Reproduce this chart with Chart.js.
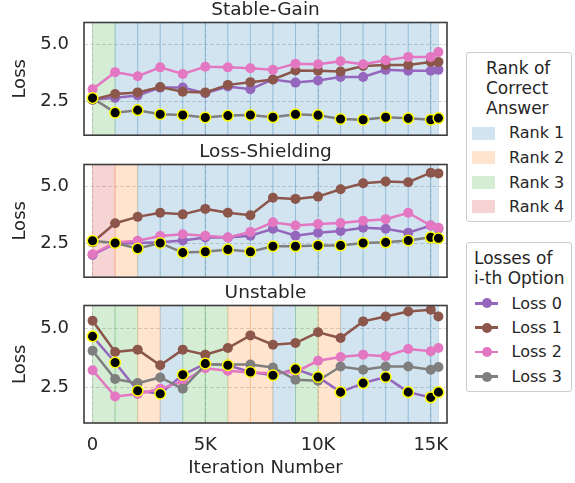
<!DOCTYPE html>
<html>
<head>
<meta charset="utf-8">
<script src="https://cdn.jsdelivr.net/npm/chart.js@4.4.0/dist/chart.umd.min.js"></script>
<style>
  body { margin: 0; background: #fff; }
  #wrap { position: relative; width: 575px; height: 483px; font-family: "DejaVu Sans", sans-serif; color: #262626; }
  canvas { position: absolute; left: 0; }
  .box { position: absolute; border: 1px solid #cccccc; border-radius: 3px; box-sizing: border-box; background: #fff; }
  .t { position: absolute; line-height: 1; white-space: nowrap; }
  .patch { position: absolute; width: 23px; height: 13px; }
  .hline { position: absolute; width: 23px; height: 2.5px; }
  .dot { position: absolute; width: 10px; height: 10px; border-radius: 50%; }
</style>
</head>
<body>
<div id="wrap">
  <canvas id="c1" width="455" height="142" style="top:0px"></canvas>
  <canvas id="c2" width="455" height="142" style="top:142px"></canvas>
  <canvas id="c3" width="455" height="200" style="top:283px"></canvas>
  <div id="legends"></div>
</div>
<script>
// iterations (x) and ticks
const ITERS = [0, 1000, 2000, 3000, 4000, 5000, 6000, 7000, 8000, 9000, 10000, 11000, 12000, 13000, 14000, 15000, 15340];
const X_TICKS = [0, 5000, 10000, 15000];
const X_TICK_LABELS = ['0', '5K', '10K', '15K'];
const Y_TICKS = [2.5, 5.0];

// Stable-Gain
const SG_LOSS0 = [2.56, 2.64, 2.74, 3.09, 3.09, 2.84, 3.14, 3.02, 3.45, 3.31, 3.40, 3.56, 3.56, 3.87, 3.83, 3.83, 3.87];
const SG_LOSS1 = [2.56, 2.81, 2.88, 3.12, 2.91, 2.88, 3.21, 3.33, 3.45, 3.84, 3.83, 3.80, 4.04, 4.08, 4.08, 4.22, 4.22];
const SG_LOSS2 = [3.02, 3.77, 3.59, 3.98, 3.69, 4.01, 3.98, 3.94, 3.87, 4.14, 4.12, 4.25, 4.12, 4.29, 4.44, 4.44, 4.65];
const SG_LOSS3 = [2.63, 1.99, 2.10, 1.92, 1.89, 1.78, 1.86, 1.89, 1.79, 1.92, 1.88, 1.71, 1.68, 1.79, 1.74, 1.68, 1.75];
const SG_RANK = [3, 1, 1, 1, 1, 1, 1, 1, 1, 1, 1, 1, 1, 1, 1, 1];
const SG_CORRECT = 3;

// Loss-Shielding
const LS_LOSS0 = [1.98, 2.47, 2.50, 2.53, 2.61, 2.74, 2.74, 2.82, 3.13, 2.82, 2.95, 3.03, 3.17, 3.13, 2.95, 3.27, 3.13];
const LS_LOSS1 = [2.53, 3.37, 3.65, 3.83, 3.76, 4.00, 3.83, 3.72, 4.49, 4.44, 4.54, 4.86, 5.13, 5.20, 5.17, 5.59, 5.56];
const LS_LOSS2 = [2.01, 2.52, 2.60, 2.81, 2.89, 2.82, 2.74, 2.99, 3.41, 3.27, 3.34, 3.38, 3.48, 3.55, 3.83, 3.27, 3.17];
const LS_LOSS3 = [2.60, 2.50, 2.26, 2.50, 2.08, 2.12, 2.22, 2.12, 2.36, 2.36, 2.39, 2.39, 2.50, 2.53, 2.61, 2.75, 2.71];
const LS_RANK = [4, 2, 1, 1, 1, 1, 1, 1, 1, 1, 1, 1, 1, 1, 1, 1];
const LS_CORRECT = 3;

// Unstable
const UN_LOSS0 = [4.65, 3.55, 2.36, 2.23, 3.03, 3.50, 3.43, 3.15, 3.01, 3.27, 2.94, 2.30, 2.68, 2.94, 2.30, 2.08, 2.30];
const UN_LOSS1 = [5.31, 3.99, 4.09, 3.43, 4.09, 3.88, 4.16, 4.69, 4.30, 4.37, 4.82, 4.58, 5.28, 5.49, 5.70, 5.77, 5.49];
const UN_LOSS2 = [3.22, 2.12, 2.22, 2.44, 2.75, 3.31, 3.20, 3.13, 3.10, 3.15, 3.62, 3.78, 3.88, 3.81, 4.12, 4.02, 4.16];
const UN_LOSS3 = [4.04, 2.85, 2.68, 2.92, 2.44, 3.46, 3.46, 3.46, 3.34, 2.82, 2.78, 3.38, 3.24, 3.38, 3.38, 3.24, 3.36];
const UN_RANK = [3, 3, 2, 1, 3, 3, 2, 2, 1, 3, 2, 1, 1, 1, 1, 1];
const UN_CORRECT = 0;

const LOSS_NAMES = ['Loss 0', 'Loss 1', 'Loss 2', 'Loss 3'];
const LOSS_COLORS = ['#9467bd', '#8c564b', '#e377c2', '#7f7f7f'];
const RANK_NAMES = ['Rank 1', 'Rank 2', 'Rank 3', 'Rank 4'];
const RANK_FILL = ['rgba(31,119,180,0.2)', 'rgba(255,127,14,0.2)', 'rgba(44,160,44,0.2)', 'rgba(214,39,40,0.2)'];

const FONT = '"DejaVu Sans", sans-serif';
const TXT = '#262626';
Chart.defaults.font.family = FONT;
Chart.defaults.color = TXT;

// shaded rank spans + axes frame
const rankBands = {
    id: 'rankBands',
    beforeDatasetsDraw(chart, args, opts) {
        const { ctx, chartArea: a, scales: { x } } = chart;
        ctx.save();
        ctx.beginPath();
        ctx.rect(a.left, a.top, a.width, a.height);
        ctx.clip();
        opts.ranks.forEach((r, i) => {
            const x0 = x.getPixelForValue(ITERS[i]);
            const x1 = x.getPixelForValue(ITERS[i + 1]);
            ctx.fillStyle = RANK_FILL[r - 1];
            ctx.fillRect(x0, a.top, x1 - x0, a.height);
            ctx.strokeStyle = RANK_FILL[r - 1];
            ctx.lineWidth = 1;
            ctx.beginPath();
            ctx.moveTo(x0, a.top); ctx.lineTo(x0, a.bottom);
            ctx.moveTo(x1, a.top); ctx.lineTo(x1, a.bottom);
            ctx.stroke();
        });
        ctx.restore();
    },
    afterDraw(chart) {
        const { ctx, chartArea: a } = chart;
        ctx.save();
        ctx.strokeStyle = '#3d3d3d';
        ctx.lineWidth = 1.6;
        ctx.strokeRect(a.left, a.top, a.width, a.height);
        ctx.restore();
    }
};

function makePanel(id, title, losses, ranks, correct, bottomAxis) {
    // chart.js draws lower "order" on top: Loss 0 at the bottom, highlight on top
    const datasets = losses.map((vals, k) => ({
        label: LOSS_NAMES[k],
        data: vals.map((v, i) => ({ x: ITERS[i], y: v })),
        order: losses.length - k,
        borderColor: LOSS_COLORS[k],
        backgroundColor: LOSS_COLORS[k],
        borderWidth: 2.5,
        pointRadius: 5,
        pointBorderWidth: 0,
        tension: 0
    }));
    datasets.push({
        label: 'correct',
        data: losses[correct].map((v, i) => ({ x: ITERS[i], y: v })),
        order: 0,
        showLine: false,
        pointRadius: 5.3,
        pointBackgroundColor: '#000',
        pointBorderColor: '#ffff00',
        pointBorderWidth: 1.5
    });

    const xScale = {
        type: 'linear',
        min: -380, max: 15720,
        afterBuildTicks: s => { s.ticks = X_TICKS.map(v => ({ value: v })); },
        afterFit: s => { s.height = bottomAxis ? 60 : 2; s.paddingLeft = 0; s.paddingRight = 0; },
        grid: { color: '#d6d6d6', lineWidth: 1, drawTicks: false },
        border: { display: false, dash: [4, 2] },
        ticks: {
            display: bottomAxis, autoSkip: false, maxRotation: 0, padding: 12,
            font: { size: 18 }, color: TXT,
            callback: (v, i) => X_TICK_LABELS[i]
        },
        title: {
            display: bottomAxis, text: 'Iteration Number', color: TXT,
            font: { size: 18 }, padding: { top: 0, bottom: 4 }
        }
    };

    return new Chart(document.getElementById(id), {
        type: 'line',
        data: { datasets },
        plugins: [rankBands],
        options: {
            responsive: false,
            animation: false,
            devicePixelRatio: 1,
            layout: { padding: { left: 0, right: 8, top: 0, bottom: 0 } },
            plugins: {
                legend: { display: false },
                tooltip: { enabled: false },
                title: {
                    display: true, text: title, fullSize: false, color: TXT,
                    font: { size: 18.5, weight: 'normal', lineHeight: 1 },
                    padding: { top: 1, bottom: 3 }
                },
                rankBands: { ranks }
            },
            scales: {
                x: xScale,
                y: {
                    min: 1, max: 5.95,
                    afterBuildTicks: s => { s.ticks = Y_TICKS.map(v => ({ value: v })); },
                    afterFit: s => { s.width = 84; s.paddingTop = 0; s.paddingBottom = 0; },
                    grid: { color: '#d6d6d6', lineWidth: 1, drawTicks: false },
                    border: { display: false, dash: [4, 2] },
                    ticks: { padding: 15, font: { size: 18 }, color: TXT, callback: v => v.toFixed(1) },
                    title: { display: true, text: 'Loss', color: TXT, font: { size: 18 }, padding: { top: 10, bottom: 0 } }
                }
            }
        }
    });
}

makePanel('c1', 'Stable-Gain', [SG_LOSS0, SG_LOSS1, SG_LOSS2, SG_LOSS3], SG_RANK, SG_CORRECT, false);
makePanel('c2', 'Loss-Shielding', [LS_LOSS0, LS_LOSS1, LS_LOSS2, LS_LOSS3], LS_RANK, LS_CORRECT, false);
makePanel('c3', 'Unstable', [UN_LOSS0, UN_LOSS1, UN_LOSS2, UN_LOSS3], UN_RANK, UN_CORRECT, true);

// legends (html), positions relative to page
function txt(s, x, cy, size) {
    return `<div class="t" style="left:${x}px;top:${(cy - 0.48 * size).toFixed(1)}px;font-size:${size}px">${s}</div>`;
}
let html = '';
html += `<div class="box" style="left:466px;top:52px;width:106px;height:170px"></div>`;
html += txt('Rank of', 486, 68, 17) + txt('Correct', 486, 88, 17) + txt('Answer', 486, 108, 17);
RANK_NAMES.forEach((n, i) => {
    const cy = 133 + i * 24.6;
    html += `<div class="patch" style="left:472px;top:${cy - 6.5}px;background:${RANK_FILL[i]}"></div>`;
    html += txt(n, 509, cy, 16);
});
html += `<div class="box" style="left:466px;top:242px;width:106px;height:150px"></div>`;
html += txt('Losses of', 474, 258, 17) + txt('i-th Option', 474, 278.5, 17);
LOSS_NAMES.forEach((n, i) => {
    const cy = 303.3 + i * 24.4;
    html += `<div class="hline" style="left:475px;top:${cy - 1.25}px;background:${LOSS_COLORS[i]}"></div>`;
    html += `<div class="dot" style="left:481.7px;top:${cy - 5}px;background:${LOSS_COLORS[i]}"></div>`;
    html += txt(n, 511.5, cy, 16);
});
document.getElementById('legends').innerHTML = html;
</script>
</body>
</html>
